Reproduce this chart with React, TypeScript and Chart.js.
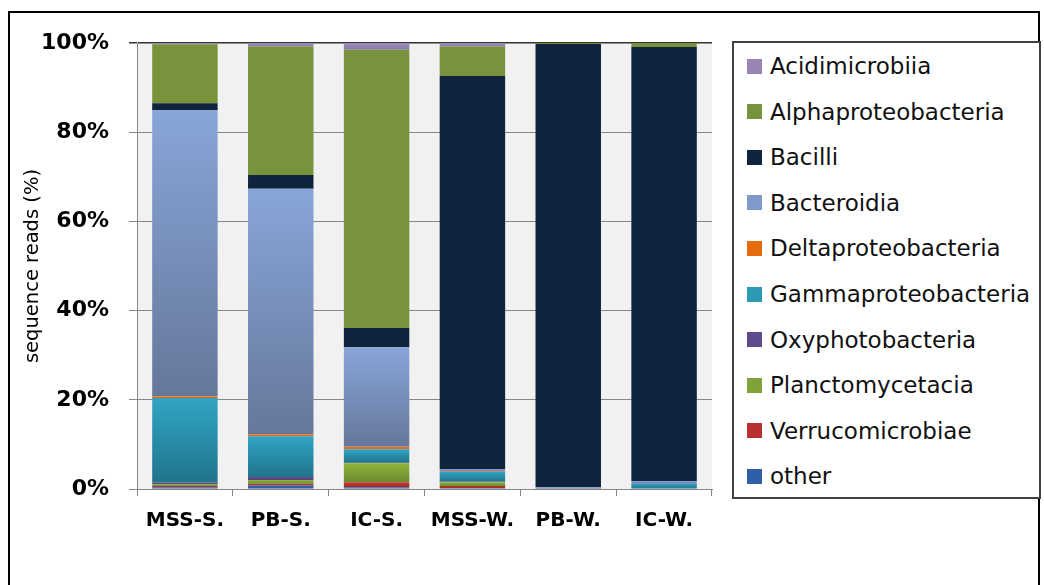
import React, { useEffect, useRef } from 'react';
import { Chart, registerables } from 'chart.js';

Chart.register(...registerables);

// ---- data (percent of sequence reads) ----
const categories = ['MSS-S.', 'PB-S.', 'IC-S.', 'MSS-W.', 'PB-W.', 'IC-W.'];
const yTickValues = [0, 20, 40, 60, 80, 100];

// series are listed bottom of stack -> top of stack
const other = [0.4, 0.8, 0.4, 0.2, 0.1, 0.1];
const verrucomicrobiae = [0.3, 0.4, 1.1, 0.5, 0.0, 0.0];
const planctomycetacia = [0.3, 0.8, 4.3, 0.8, 0.0, 0.0];
const oxyphotobacteria = [0.4, 0.7, 0.1, 0.2, 0.1, 0.0];
const gammaproteobacteria = [19.0, 9.1, 3.0, 2.1, 0.1, 1.1];
const deltaproteobacteria = [0.4, 0.5, 0.6, 0.1, 0.0, 0.0];
const bacteroidia = [64.2, 55.0, 22.3, 0.6, 0.1, 0.6];
const bacilli = [1.5, 3.1, 4.3, 88.1, 99.4, 97.3];
const alphaproteobacteria = [13.2, 28.8, 62.4, 6.6, 0.2, 0.9];
const acidimicrobiia = [0.3, 0.8, 1.5, 0.8, 0.0, 0.0];

const seriesNames = [
  'other',
  'Verrucomicrobiae',
  'Planctomycetacia',
  'Oxyphotobacteria',
  'Gammaproteobacteria',
  'Deltaproteobacteria',
  'Bacteroidia',
  'Bacilli',
  'Alphaproteobacteria',
  'Acidimicrobiia',
];
const seriesValues = [
  other,
  verrucomicrobiae,
  planctomycetacia,
  oxyphotobacteria,
  gammaproteobacteria,
  deltaproteobacteria,
  bacteroidia,
  bacilli,
  alphaproteobacteria,
  acidimicrobiia,
];
// [top of segment, bottom of segment, legend swatch]
const seriesColors: [string, string, string][] = [
  ['#3468b0', '#2a5391', '#2f5fa6'],
  ['#c63c32', '#9a2a24', '#b8312f'],
  ['#90b53f', '#6a8a2c', '#7fa23a'],
  ['#6a5290', '#553f73', '#5f4b8b'],
  ['#30a5c4', '#21748b', '#2c9ab5'],
  ['#e57a25', '#c8661a', '#e46c0a'],
  ['#88a6d8', '#66779b', '#7f9bcb'],
  ['#10243e', '#10243e', '#10243e'],
  ['#77933c', '#77933c', '#77933c'],
  ['#a08fbd', '#8a78a8', '#9985b5'],
];

const FONT = "'DejaVu Sans', sans-serif";

function makeFill(d: number) {
  return (ctx: any) => {
    const [top, bottom, flat] = seriesColors[d];
    if (top === bottom) return top;
    const chart = ctx.chart;
    const y = chart.scales && chart.scales.y;
    if (!y || ctx.dataIndex === undefined) return flat;
    const i = ctx.dataIndex;
    let base = 0;
    for (let k = 0; k < d; k++) base += seriesValues[k][i];
    const end = base + seriesValues[d][i];
    const yTop = y.getPixelForValue(end);
    const yBot = y.getPixelForValue(base);
    if (!isFinite(yTop) || !isFinite(yBot) || yBot - yTop < 0.5) return flat;
    const g = chart.ctx.createLinearGradient(0, yTop, 0, yBot);
    g.addColorStop(0, top);
    g.addColorStop(1, bottom);
    return g;
  };
}

const plotBackground = {
  id: 'plotBackground',
  beforeDraw(chart: any) {
    const { ctx, chartArea } = chart;
    ctx.save();
    ctx.fillStyle = '#f1f1f1';
    ctx.fillRect(chartArea.left, chartArea.top, chartArea.right - chartArea.left, chartArea.bottom - chartArea.top);
    ctx.restore();
  },
};

export default function App() {
  const canvasRef = useRef<HTMLCanvasElement | null>(null);

  useEffect(() => {
    if (!canvasRef.current) return;
    const chart = new Chart(canvasRef.current, {
      type: 'bar',
      data: {
        labels: categories,
        datasets: seriesNames.map((name, d) => ({
          label: name,
          data: seriesValues[d],
          backgroundColor: makeFill(d),
          borderWidth: 0,
          barPercentage: 0.683,
          categoryPercentage: 1,
        })),
      },
      plugins: [plotBackground],
      options: {
        responsive: false,
        animation: false,
        devicePixelRatio: 1,
        layout: { padding: { top: 43, right: 332, bottom: 0, left: 0 } },
        plugins: {
          legend: { display: false },
          tooltip: { enabled: false },
        },
        scales: {
          x: {
            stacked: true,
            grid: {
              offset: true,
              drawOnChartArea: false,
              drawTicks: true,
              tickLength: 7,
              color: '#868686',
            },
            border: { display: true, color: '#868686', width: 1 },
            ticks: {
              color: '#000',
              padding: 13,
              font: { family: FONT, size: 20, weight: 'bold' },
              maxRotation: 0,
            },
            afterFit(scale: any) {
              scale.height = 96;
            },
          },
          y: {
            stacked: true,
            min: 0,
            max: 100,
            afterBuildTicks(scale: any) {
              scale.ticks = yTickValues.map((v) => ({ value: v }));
            },
            grid: {
              color: (c: any) => (c.tick && c.tick.value === 100 ? '#333333' : '#868686'),
              lineWidth: (c: any) => (c.tick && c.tick.value === 100 ? 1.5 : 1),
              tickLength: 8,
            },
            border: { display: true, color: '#868686', width: 1 },
            ticks: {
              color: '#000',
              padding: 20,
              font: { family: FONT, size: 22, weight: 'bold' },
              callback: (v: any) => v + '%',
            },
            title: {
              display: true,
              text: 'sequence reads (%)',
              color: '#000',
              font: { family: FONT, size: 19.5 },
              padding: { top: 21, bottom: 0 },
            },
            afterFit(scale: any) {
              scale.width = 137;
            },
          },
        },
      } as any,
    });
    return () => chart.destroy();
  }, []);

  const legendOrder = seriesNames.map((_, i) => seriesNames.length - 1 - i);

  return (
    <div style={{ position: 'absolute', left: 0, top: 0, width: 1044, height: 585, overflow: 'hidden', background: '#fff' }}>
      <canvas ref={canvasRef} width={1044} height={585} style={{ position: 'absolute', left: 0, top: 0, width: 1044, height: 585 }} />
      <div
        style={{
          position: 'absolute',
          left: 8,
          top: 11,
          width: 1032,
          height: 620,
          border: '2px solid #000',
          boxSizing: 'border-box',
          pointerEvents: 'none',
        }}
      />
      <div
        style={{
          position: 'absolute',
          left: 732,
          top: 41,
          width: 309,
          height: 458,
          border: '2px solid #404040',
          boxSizing: 'border-box',
          background: '#fff',
        }}
      />
      {legendOrder.map((d, row) => (
        <div
          key={seriesNames[d]}
          style={{
            position: 'absolute',
            left: 747,
            top: 66 + row * 45.6 - 15,
            height: 30,
            display: 'flex',
            alignItems: 'center',
            whiteSpace: 'nowrap',
          }}
        >
          <span style={{ display: 'inline-block', width: 15, height: 15, background: seriesColors[d][2] }} />
          <span style={{ marginLeft: 8, fontFamily: FONT, fontSize: 23, color: '#111', lineHeight: '30px' }}>
            {seriesNames[d]}
          </span>
        </div>
      ))}
    </div>
  );
}
